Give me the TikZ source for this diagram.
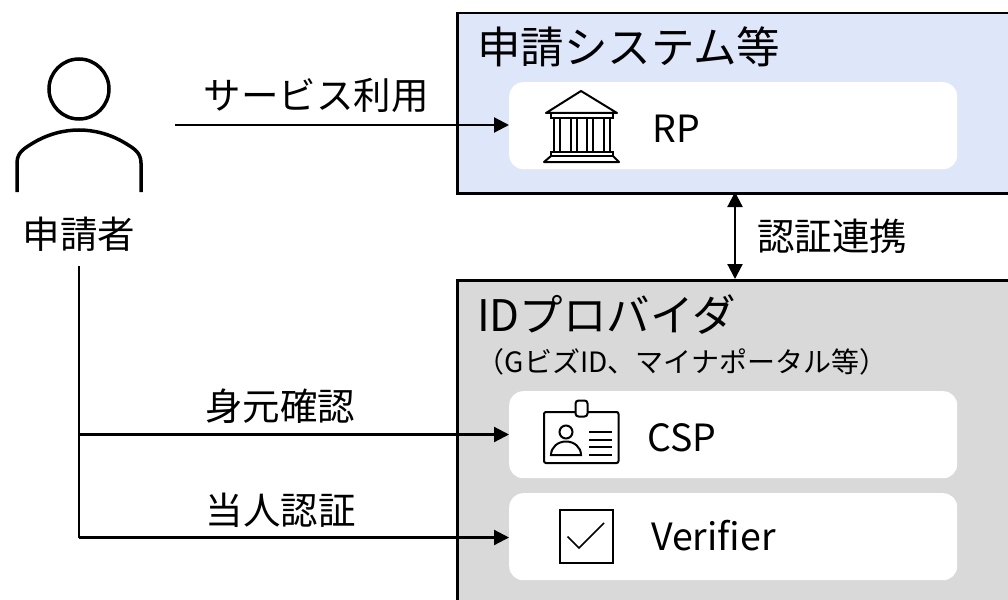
\documentclass[tikz,border=0pt]{standalone}
\usepackage{fontspec}
\setmainfont{Noto Sans CJK JP}
\usetikzlibrary{arrows.meta}

\definecolor{sysblue}{HTML}{DEE6F9}
\definecolor{idgray}{HTML}{D9D9D9}

\tikzset{
  groupbox/.style={rectangle, draw=black, line width=2.5pt, anchor=north west, inner sep=0pt},
  itembox/.style={rectangle, rounded corners=14pt, fill=white, anchor=north west, inner sep=0pt, minimum width=448pt, minimum height=87pt},
  bigtext/.style={inner sep=0pt, font=\fontsize{43.5pt}{46pt}\selectfont, anchor=west},
  midtext/.style={inner sep=0pt, font=\fontsize{37.5pt}{40pt}\selectfont},
  subtext/.style={inner sep=0pt, font=\fontsize{28pt}{30pt}\selectfont},
  flow/.style={line width=2.2pt, -{Triangle[length=15pt,width=15pt]}},
  icon/.style={line width=2pt}
}

\begin{document}
\begin{tikzpicture}[x=1pt, y=-1pt]
\useasboundingbox (0,0) rectangle (1008,599);
\clip (0,0) rectangle (1008,599);

\node[groupbox, fill=sysblue, minimum width=600pt, minimum height=180pt] (SYS) at (456,12) {};
\node[groupbox, fill=idgray, minimum width=600pt, minimum height=360pt] (IDP) at (456,279) {};
\node[itembox] (RP) at (509,82) {};
\node[itembox] (CSP) at (509,391) {};
\node[itembox] (VER) at (509,493) {};

\node[bigtext] (SYST) at (477,47) {申請システム等};
\node[bigtext] (IDPT) at (477,315) {IDプロバイダ};
\node[subtext] (IDPS) at (682,362) {（GビズID、マイナポータル等）};
\node[midtext, anchor=west] (RPT) at (652,128.5) {RP};
\node[midtext, anchor=west] (CSPT) at (647,437.5) {CSP};
\node[midtext, anchor=west] (VERT) at (651,536) {Verifier};

\node[midtext] (USER) at (79,234) {申請者};
\node[midtext] (USE) at (316,95) {サービス利用};
\node[midtext, anchor=west] (LINK) at (757,236) {認証連携};
\node[midtext] (IDENT) at (280,406) {身元確認};
\node[midtext] (AUTH) at (280.5,510) {当人認証};

\coordinate (A) at (175,125);
\coordinate (B) at (79,266);
\coordinate (C) at (79,434.5);
\coordinate (D) at (79,537.5);

\draw[flow] (A) -- (A -| RP.west);
\draw[line width=2.2pt] (B) -- (D);
\draw[flow] (C) -- (C -| CSP.west);
\draw[flow] (D) -- (D -| VER.west);
\draw[line width=2.2pt, {Triangle[length=15pt,width=15pt]}-{Triangle[length=15pt,width=15pt]}] (735,192) coordinate (E) -- (735,279) coordinate (F);

\draw[line width=3.5pt] (79,89) circle (30);
\draw[line width=3.5pt] (17,192) -- (17,163) .. controls (17,152) and (25,148) .. (33,143) .. controls (48,134) and (64,130) .. (79,130) .. controls (94,130) and (110,134) .. (125,143) .. controls (133,148) and (141,152) .. (141,163) -- (141,192);

\draw[icon, line join=round] (581,91) -- (546,113) -- (617,113) -- cycle;
\draw[icon] (551,113) -- (551,118) -- (613,118) -- (613,113);
\foreach \xa in {553.5,570.5,587,603.5}
  \draw[icon] (\xa,118) -- (\xa,152) (\xa+6,118) -- (\xa+6,152);
\draw[icon] (551,152) rectangle (613,156);
\draw[icon, line join=round] (551,156) -- (544,162) -- (619,162) -- (613,156);

\draw[icon, rounded corners=2pt] (544,412) rectangle (618.5,463);
\draw[icon, rounded corners=3pt, fill=white] (575.5,400.5) rectangle (587.5,416.5);
\draw[icon] (566,432) circle (6.5);
\draw[icon] (551,455) .. controls (551,447) and (558,441.5) .. (566,441.5) .. controls (574,441.5) and (581,447) .. (581,455) -- cycle;
\foreach \ya in {432,439.5,447,454.5}
  \draw[icon] (589,\ya) -- (612,\ya);

\draw[icon] (559.5,510) rectangle (612.5,562.5);
\draw[line width=1.6pt] (567.5,536.5) -- (579,548) -- (604,523);
\end{tikzpicture}
\end{document}
